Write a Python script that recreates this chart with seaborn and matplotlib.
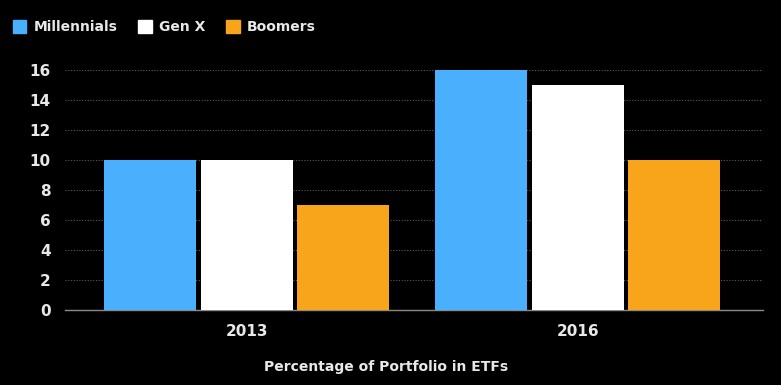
import matplotlib
matplotlib.use("Agg")
import matplotlib.pyplot as plt
import seaborn as sns
import pandas as pd

# Данные
years = ["2013", "2016"]
generations = ["Millennials", "Gen X", "Boomers"]
millennials = [10, 16]
gen_x = [10, 15]
boomers = [7, 10]
y_ticks = [0, 2, 4, 6, 8, 10, 12, 14, 16]

colors = ["#4aaffd", "#ffffff", "#f8a51b"]
text_color = "#e8e8e8"

df = pd.DataFrame({
    "year": years * 3,
    "generation": [g for g in generations for _ in years],
    "value": millennials + gen_x + boomers,
})

sns.set_style("dark")
plt.rcParams["font.family"] = ["DejaVu Sans"]

fig = plt.figure(figsize=(7.81, 3.85), dpi=100, facecolor="black")
ax = fig.add_axes([0.083, 1 - 310 / 385, 0.894, 248 / 385])
ax.set_facecolor("black")

sns.barplot(data=df, x="year", y="value", hue="generation",
            hue_order=generations, palette=colors, width=0.875, gap=0.05,
            saturation=1, linewidth=0, ax=ax, legend=False, zorder=3)

ax.set_xlim(-0.55, 1.56)
ax.set_ylim(0, 16.55)
ax.set_yticks(y_ticks)
ax.grid(False)
ax.yaxis.grid(True, color="#5a5a5a", linestyle=(0, (1, 1.5)), linewidth=0.8, zorder=0)

for side in ["top", "right", "left"]:
    ax.spines[side].set_visible(False)
ax.spines["bottom"].set_color("#8a8a8a")
ax.spines["bottom"].set_linewidth(1.0)

ax.tick_params(axis="y", length=0, colors=text_color, labelsize=11, pad=10)
ax.tick_params(axis="x", length=4, color="#8a8a8a", colors=text_color, labelsize=11, pad=6)
for lbl in ax.get_xticklabels() + ax.get_yticklabels():
    lbl.set_fontweight("bold")
ax.set_xlabel("")
ax.set_ylabel("")

fig.text(0.494, 0.048, "Percentage of Portfolio in ETFs", ha="center", va="center",
         color=text_color, fontsize=10, fontweight="bold")

# Легенда
handles = [plt.Rectangle((0, 0), 1, 1, color=c) for c in colors]
leg = fig.legend(handles, generations, loc="upper left", bbox_to_anchor=(0.0, 0.98),
                 ncol=3, frameon=False, handlelength=1.0, handleheight=1.0,
                 handletextpad=0.5, columnspacing=1.5,
                 prop={"size": 10, "weight": "bold"})
for t in leg.get_texts():
    t.set_color(text_color)

fig.savefig("out.png", dpi=100, facecolor="black")
